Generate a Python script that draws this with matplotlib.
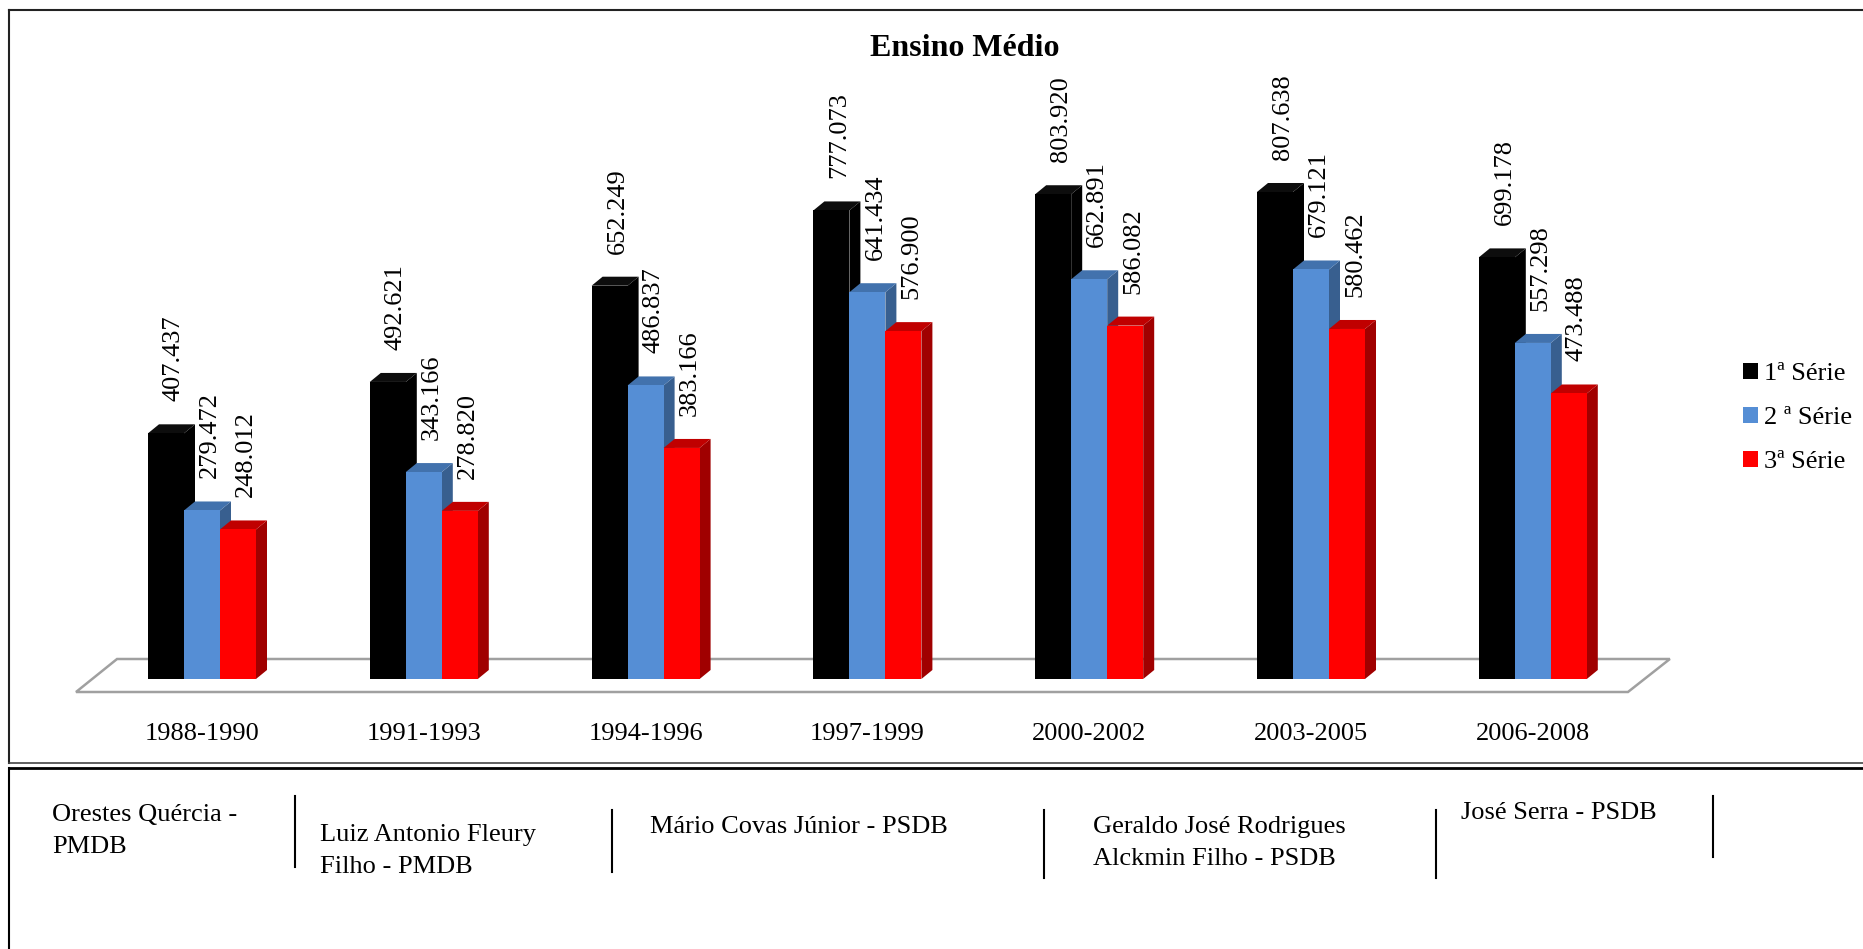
import matplotlib.pyplot as plt
from matplotlib.patches import Polygon, Patch
from matplotlib.lines import Line2D

plt.rcParams['font.family'] = ['Liberation Serif', 'DejaVu Serif']

# matrículas por série, por mandato
periods = ['1988-1990', '1991-1993', '1994-1996', '1997-1999',
           '2000-2002', '2003-2005', '2006-2008']
serie_1 = [407437, 492621, 652249, 777073, 803920, 807638, 699178]
serie_2 = [279472, 343166, 486837, 641434, 662891, 679121, 557298]
serie_3 = [248012, 278820, 383166, 576900, 586082, 580462, 473488]
series_names = ['1ª Série', '2 ª Série', '3ª Série']

governors = ['Orestes Quércia -\nPMDB',
             'Luiz Antonio Fleury\nFilho - PMDB',
             'Mário Covas Júnior - PSDB',
             'Geraldo José Rodrigues\nAlckmin Filho - PSDB',
             'José Serra - PSDB']

W, H = 1863, 949
fig = plt.figure(figsize=(W / 100, H / 100), dpi=100)


def fx(px):
    return px / W


def fy(py):
    return 1 - py / H


# chart axes over the whole figure: 1 x-unit = one period, y in students
step_px = 221.8
unit_px = 0.000603
base_px = 679
first_px = 202
ax = fig.add_axes([0, 0, 1, 1])
ax.set_xlim(-first_px / step_px, (W - first_px) / step_px)
ax.set_ylim(-(H - base_px) / unit_px, base_px / unit_px)
ax.axis('off')

bw = 36 / step_px
dx = 11 / step_px
dy = 9 / unit_px

face_c = ['#000000', '#558ed5', '#ff0000']
top_c = ['#0d0d0d', '#4272ad', '#c00000']
side_c = ['#000000', '#385f8f', '#a00000']

# floor of the 3d chart
n = len(periods)
fl_front = -13 / unit_px
fl_back = 20 / unit_px
floor = Polygon([(-0.568, fl_front), (-0.383, fl_back),
                 (n - 1 + 0.618, fl_back), (n - 1 + 0.429, fl_front)],
                closed=True, facecolor='white', edgecolor='#a0a0a0', lw=1.8, zorder=1)
ax.add_patch(floor)

series = [serie_1, serie_2, serie_3]
for i in range(n):
    for s, vals in enumerate(series):
        v = vals[i]
        x0 = i - 1.5 * bw + s * bw
        x1 = x0 + bw
        z = 2 + i * 3 + s
        ax.add_patch(Polygon([(x1, 0), (x1 + dx, dy), (x1 + dx, v + dy), (x1, v)],
                             closed=True, facecolor=side_c[s], lw=0, zorder=z))
        ax.add_patch(Polygon([(x0, v), (x0 + dx, v + dy), (x1 + dx, v + dy), (x1, v)],
                             closed=True, facecolor=top_c[s], lw=0, zorder=z))
        ax.add_patch(Polygon([(x0, 0), (x1, 0), (x1, v), (x0, v)],
                             closed=True, facecolor=face_c[s], lw=0, zorder=z))
        label = f'{v:,}'.replace(',', '.')
        ax.text((x0 + x1) / 2 + 8 / step_px, v + 32 / unit_px, label,
                rotation=90, ha='center', va='bottom', fontsize=19, zorder=50)
    ax.text(i, -55 / unit_px, periods[i], ha='center', va='center', fontsize=19)

fig.text(fx(965), fy(48), 'Ensino Médio', ha='center', va='center',
         fontsize=23, weight='bold')

handles = [Patch(facecolor=c, edgecolor='none') for c in face_c]
fig.legend(handles, series_names, loc='center left', bbox_to_anchor=(fx(1743), fy(418)),
           frameon=False, fontsize=19, handlelength=0.55, handleheight=0.55,
           handletextpad=0.25, labelspacing=0.82, borderpad=0, borderaxespad=0)

# frames
lw = 1.5
fig.add_artist(Line2D([fx(9), 1], [fy(10), fy(10)], color='#222222', lw=lw))
fig.add_artist(Line2D([fx(9), fx(9)], [fy(10), fy(763)], color='#222222', lw=lw))
fig.add_artist(Line2D([fx(9), 1], [fy(763), fy(763)], color='#444444', lw=1.2))
fig.add_artist(Line2D([fx(9), 1], [fy(768), fy(768)], color='black', lw=2))
fig.add_artist(Line2D([fx(9), fx(9)], [fy(768), 0], color='black', lw=lw))

# governors below the periods
gov_x = [52, 320, 650, 1093, 1461]
gov_y = [815, 835, 827, 827, 813]
line_gap = 32
for x, y, name in zip(gov_x, gov_y, governors):
    for k, line in enumerate(name.split('\n')):
        fig.text(fx(x), fy(y + k * line_gap), line, ha='left', va='center', fontsize=19)

div_x = [295, 612, 1044, 1436, 1713]
div_y = [(796, 867), (810, 872), (810, 878), (810, 878), (796, 857)]
for x, (ya, yb) in zip(div_x, div_y):
    fig.add_artist(Line2D([fx(x), fx(x)], [fy(ya), fy(yb)], color='black', lw=1.5))

fig.savefig('out.png', dpi=100)
